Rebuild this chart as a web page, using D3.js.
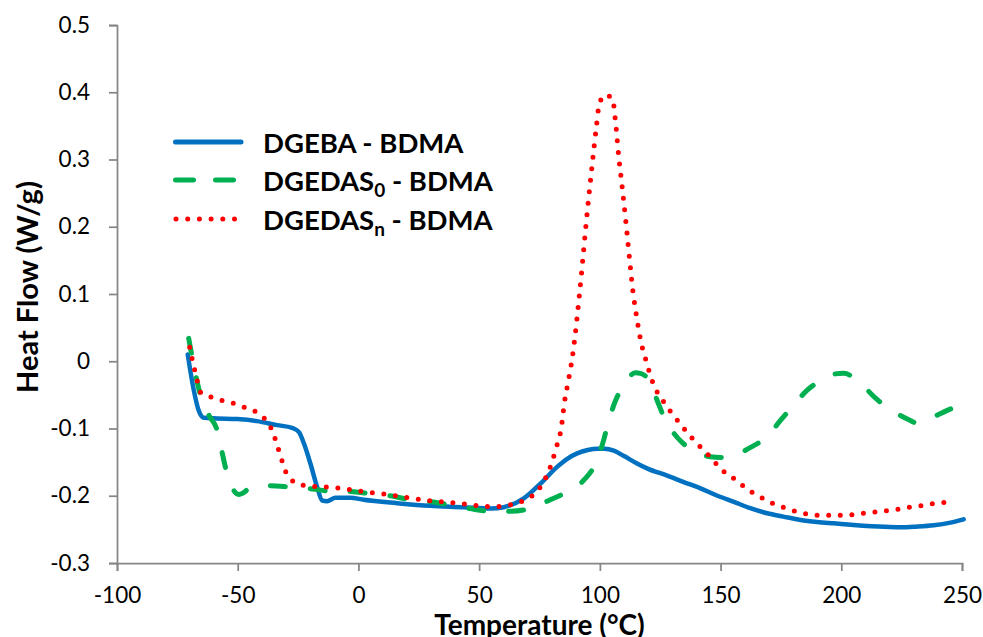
<!DOCTYPE html>
<html><head><meta charset="utf-8">
<script src="https://cdn.jsdelivr.net/npm/d3@7"></script>
<style>body{margin:0;background:#fff}svg{display:block}text{font-family:Lato,"Open Sans",sans-serif}</style>
</head><body><svg id="c" width="983" height="637"></svg>
<script>
const xTicks = [-100,-50,0,50,100,150,200,250];
const xTickLabels = ["-100","-50","0","50","100","150","200","250"];
const yTicks = [-0.3,-0.2,-0.1,0,0.1,0.2,0.3,0.4,0.5];
const yTickLabels = ["-0.3","-0.2","-0.1","0","0.1","0.2","0.3","0.4","0.5"];
const seriesNames = ["DGEBA - BDMA","DGEDAS","DGEDAS"];

const dgebaT = [-70.7,-68.2,-66.2,-64.1,-58.5,-50.2,-42,-33.7,-27.5,-24.7,-22.6,-19.9,-17.1,-15,-13,-9.5,-3.3,2.2,16,29.8,43.6,54.7,60.2,68.5,75.4,82.3,86.5,90.6,95,98.9,102,105.8,110,115.4,120,127.9,135,141.7,148.7,155.5,162,169.3,176,183.1,190,196.9,204,210.7,218,224.5,231,238.3,245.2,250.7];
const dgebaV = [0.010,-0.043,-0.073,-0.084,-0.085,-0.086,-0.089,-0.095,-0.099,-0.105,-0.122,-0.152,-0.187,-0.207,-0.208,-0.203,-0.203,-0.206,-0.211,-0.215,-0.217,-0.219,-0.217,-0.204,-0.182,-0.157,-0.145,-0.137,-0.132,-0.130,-0.130,-0.133,-0.141,-0.152,-0.160,-0.170,-0.180,-0.189,-0.200,-0.209,-0.218,-0.226,-0.231,-0.236,-0.239,-0.241,-0.243,-0.245,-0.246,-0.247,-0.246,-0.244,-0.240,-0.235];

const das0T = [-70.3,-68,-65.4,-62,-58.5,-56.5,-54.8,-52,-49.6,-47,-45.4,-40,-36.4,-28.5,-19.2,-11.9,-2,5,13,21.5,30,38,46,54.7,63,71.3,78.8,86.4,93.3,98.2,101.6,103,105.8,109.2,112,114.7,116.8,120.3,123.7,127.2,132,138.2,145.8,150,154.8,162.4,169.3,174.8,180.3,185.9,192.8,197,201,208,214.2,220.4,228,231.4,235.6,243.9,245.9];
const das0V = [0.034,-0.010,-0.051,-0.080,-0.103,-0.135,-0.162,-0.190,-0.198,-0.194,-0.189,-0.186,-0.185,-0.187,-0.190,-0.193,-0.194,-0.197,-0.200,-0.206,-0.209,-0.214,-0.219,-0.223,-0.223,-0.219,-0.207,-0.194,-0.177,-0.152,-0.117,-0.098,-0.065,-0.039,-0.024,-0.017,-0.018,-0.028,-0.058,-0.088,-0.113,-0.132,-0.142,-0.143,-0.141,-0.128,-0.112,-0.088,-0.065,-0.043,-0.026,-0.019,-0.018,-0.033,-0.055,-0.072,-0.087,-0.092,-0.087,-0.073,-0.070];

const dasnT = [-69.9,-68.9,-67.9,-66.8,-65.4,-61.3,-56.8,-52.3,-47.5,-43.1,-39.2,-36.5,-34.7,-33.3,-31.9,-30.5,-27.8,-23.6,-18.9,-14.1,-9.5,-4.7,0.1,9.5,19,28.6,38,47.5,52.3,57,61.8,66.4,70.8,74.4,77,79,80.5,81.9,84.1,85.3,87,88.6,89.8,91.3,92.7,94,95.4,96.9,98.5,99.7,102,105.2,106.5,107.8,109.4,110.9,112.3,113.8,115.2,116.8,119.2,122.1,124.1,126.8,129.5,132.4,135.5,138.6,142,145.4,148.6,152,155.8,159.6,163.5,167.6,172,176.6,181,185.6,190.3,195.1,199.8,204.6,209.3,214.2,219,223.7,228.3,233,237.8,242.5];
const dasnV = [0.021,0.004,-0.012,-0.029,-0.046,-0.053,-0.058,-0.062,-0.068,-0.074,-0.084,-0.097,-0.113,-0.129,-0.145,-0.161,-0.176,-0.184,-0.186,-0.187,-0.188,-0.190,-0.193,-0.197,-0.202,-0.207,-0.210,-0.214,-0.216,-0.216,-0.214,-0.210,-0.203,-0.192,-0.177,-0.162,-0.146,-0.129,-0.097,-0.062,-0.028,0.006,0.040,0.091,0.142,0.193,0.244,0.295,0.347,0.381,0.396,0.391,0.356,0.305,0.254,0.203,0.152,0.101,0.067,0.033,0.000,-0.033,-0.048,-0.062,-0.076,-0.089,-0.103,-0.116,-0.129,-0.141,-0.154,-0.166,-0.175,-0.186,-0.196,-0.204,-0.212,-0.218,-0.223,-0.227,-0.229,-0.229,-0.229,-0.228,-0.226,-0.224,-0.222,-0.220,-0.217,-0.215,-0.212,-0.210];

const svg = d3.select("#c");
const x = d3.scaleLinear().domain([-100,250]).range([117,962]);
const y = d3.scaleLinear().domain([-0.3,0.5]).range([563,25]);
const axisColor = "#868686";

const gx = svg.append("g").attr("transform","translate(0,563)")
  .call(d3.axisBottom(x).tickValues(xTicks).tickSize(8).tickPadding(16).tickFormat((d,i)=>xTickLabels[i]));
const gy = svg.append("g").attr("transform","translate(117,0)")
  .call(d3.axisLeft(y).tickValues(yTicks).tickSize(8).tickPadding(19).tickFormat((d,i)=>yTickLabels[i]));
[gx,gy].forEach(g=>{
  g.select(".domain").attr("stroke",axisColor).attr("stroke-width",1.75);
  g.selectAll(".tick line").attr("stroke",axisColor).attr("stroke-width",1.75);
  g.selectAll(".tick text").attr("fill","#000").style("font-size","22.5px").style("font-family","Lato");
});

svg.append("text").attr("x",539.5).attr("y",635).attr("text-anchor","middle")
  .style("font-size","28px").style("font-weight","bold").text("Temperature (°C)");
svg.append("text").attr("transform","translate(38,287) rotate(-90)").attr("text-anchor","middle")
  .style("font-size","29px").style("font-weight","bold").text("Heat Flow (W/g)");

const line = d3.line().x(d=>x(d[0])).y(d=>y(d[1])).curve(d3.curveMonotoneX);
const mk = (T,V)=>T.map((t,i)=>[t,V[i]]);

const styles = [
  {color:"#0070C0", dash:null, cap:"round", w:4.5},
  {color:"#00B050", dash:"15,25", cap:"round", w:5},
  {color:"#FF0000", dash:"0,11.6", cap:"round", w:5}
];
const data = [mk(dgebaT,dgebaV), mk(das0T,das0V), mk(dasnT,dasnV)];
[0,1,2].forEach(i=>{
  svg.append("path").datum(data[i]).attr("d",line).attr("fill","none")
    .attr("stroke",styles[i].color).attr("stroke-width",styles[i].w)
    .attr("stroke-linecap",styles[i].cap).attr("stroke-linejoin","round")
    .attr("stroke-dasharray",styles[i].dash);
});

// legend
const legY = [142,180,219];
const legDash = [null,"18,22","0,11.7"];
const legX0 = [175.5,175.5,176];
const legX1 = [241,241,235];
const subs = [null,"0","n"];
[0,1,2].forEach(i=>{
  svg.append("line").attr("x1",legX0[i]).attr("x2",legX1[i]).attr("y1",legY[i]).attr("y2",legY[i])
    .attr("stroke",styles[i].color).attr("stroke-width",5).attr("stroke-linecap","round")
    .attr("stroke-dasharray",legDash[i]);
  const t = svg.append("text").attr("x",263).attr("y",legY[i]+11)
    .style("font-size","27.5px").style("font-weight","bold");
  t.append("tspan").text(seriesNames[i]);
  if (subs[i]) {
    t.append("tspan").attr("dy",6).style("font-size","19px").text(subs[i]);
    t.append("tspan").attr("dy",-6).text(" - BDMA");
  }
});
</script></body></html>
